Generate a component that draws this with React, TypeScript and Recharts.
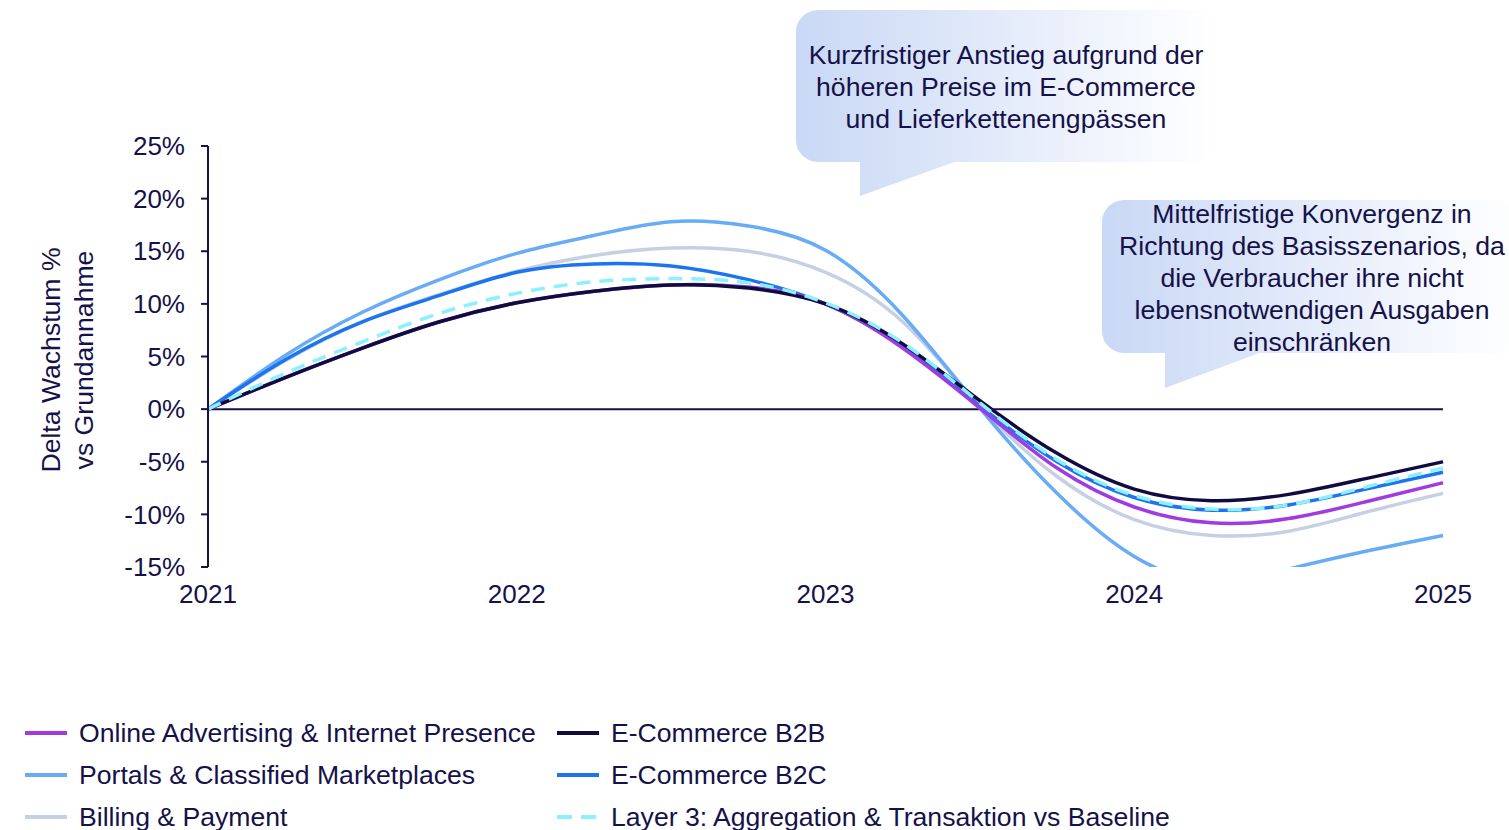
import { LineChart, Line, XAxis, YAxis, ReferenceLine } from 'recharts'

const years = [2021, 2021.25, 2021.5, 2021.75, 2022, 2022.25, 2022.5, 2022.75, 2023, 2023.25, 2023.5, 2023.75, 2024, 2024.25, 2024.5, 2024.75, 2025]

const onlineAdvertising = [0, 3.0, 5.8, 8.3, 10.1, 11.2, 11.8, 11.6, 10.0, 5.8, 0.1, -5.6, -9.3, -10.8, -10.4, -8.8, -7.0]
const portals = [0, 5.1, 9.2, 12.3, 14.8, 16.5, 17.8, 17.4, 15.1, 8.9, 0.1, -8.0, -14.0, -16.4, -15.2, -13.5, -12.0]
const billing = [0, 4.6, 8.3, 10.9, 13.1, 14.6, 15.3, 15.0, 13.0, 8.3, 0.3, -6.4, -10.5, -12.0, -11.6, -9.8, -8.0]
const b2b = [0, 3.0, 5.8, 8.3, 10.1, 11.2, 11.8, 11.5, 10.0, 6.2, 0.8, -4.2, -7.6, -8.7, -8.1, -6.6, -5.0]
const b2c = [0, 4.7, 8.3, 10.8, 13.0, 13.8, 13.6, 12.3, 10.0, 5.9, 0.3, -5.0, -8.4, -9.6, -9.1, -7.6, -6.0]
const layer3 = [0, 3.4, 6.4, 9.1, 11.0, 12.1, 12.4, 12.0, 10.1, 6.3, 0.6, -4.8, -8.2, -9.5, -9.1, -7.4, -5.6]

const yTicks = [-15, -10, -5, 0, 5, 10, 15, 20, 25]
const xTicks = [2021, 2022, 2023, 2024, 2025]

const callout1 = ['Kurzfristiger Anstieg aufgrund der', 'höheren Preise im E-Commerce', 'und Lieferkettenengpässen']
const callout2 = ['Mittelfristige Konvergenz in', 'Richtung des Basisszenarios, da', 'die Verbraucher ihre nicht', 'lebensnotwendigen Ausgaben', 'einschränken']

const series = [
  { key: 'billing', name: 'Billing & Payment', color: '#C6D0E3', values: billing },
  { key: 'portals', name: 'Portals & Classified Marketplaces', color: '#68ABF6', values: portals },
  { key: 'b2c', name: 'E-Commerce B2C', color: '#1C74EE', values: b2c },
  { key: 'online', name: 'Online Advertising & Internet Presence', color: '#A03CDF', values: onlineAdvertising },
  { key: 'b2b', name: 'E-Commerce B2B', color: '#100C40', values: b2b },
  { key: 'layer3', name: 'Layer 3: Aggregation & Transaktion vs Baseline', color: '#8DF0FF', values: layer3, dashed: true },
]

const legendOrder = [
  ['online', 'portals', 'billing'],
  ['b2b', 'b2c', 'layer3'],
]

const data = years.map((t, i) => {
  const row: any = { t }
  series.forEach((s) => { row[s.key] = s.values[i] })
  return row
})

const FONT = '"Liberation Sans", Arial, sans-serif'
const INK = '#15114A'
const TXT = 26.6

const Callout = ({ x, y, w, h, tailX, tailY, lines, cx, firstLine, id }: any) => (
  <g>
    <defs>
      <linearGradient id={id} gradientUnits="userSpaceOnUse" x1={x} y1={0} x2={x + w} y2={0}>
        <stop offset="0%" stopColor="#C9D8F5" />
        <stop offset="100%" stopColor="#FFFFFF" />
      </linearGradient>
    </defs>
    <rect x={x} y={y} width={w} height={h} rx={22} fill={`url(#${id})`} />
    <polygon points={`${tailX},${y + h - 2} ${tailX + 100},${y + h - 2} ${tailX},${tailY}`} fill={`url(#${id})`} />
    {lines.map((l: string, i: number) => (
      <text key={i} x={cx} y={firstLine + i * 32} textAnchor="middle" fontSize={TXT} fontFamily={FONT} fill={INK}>{l}</text>
    ))}
  </g>
)

export default function App() {
  return (
    <div style={{ position: 'absolute', left: 0, top: 0, width: 1509, height: 830, background: '#fff', fontFamily: FONT, overflow: 'hidden' }}>
      <LineChart width={1509} height={620} data={data} margin={{ top: 146, right: 66, bottom: 13, left: 0 }}>
        <XAxis
          dataKey="t"
          type="number"
          domain={[2021, 2025]}
          ticks={xTicks}
          axisLine={false}
          tickLine={false}
          tickMargin={12}
          height={40}
          tick={{ fontSize: 26, fill: INK, fontFamily: FONT }}
        />
        <YAxis
          domain={[-15, 25]}
          ticks={yTicks}
          allowDataOverflow
          width={208}
          tickFormatter={(v) => `${v}%`}
          axisLine={{ stroke: INK, strokeWidth: 2 }}
          tickLine={{ stroke: INK, strokeWidth: 2 }}
          tickSize={7}
          tickMargin={16}
          tick={{ fontSize: 26, fill: INK, fontFamily: FONT }}
        />
        <ReferenceLine y={0} stroke={INK} strokeWidth={2} />
        {series.map((s) => (
          <Line
            key={s.key}
            dataKey={s.key}
            name={s.name}
            type="natural"
            stroke={s.color}
            strokeWidth={3.5}
            strokeDasharray={s.dashed ? '14 9' : undefined}
            dot={false}
            isAnimationActive={false}
          />
        ))}
      </LineChart>

      <svg width={1509} height={830} style={{ position: 'absolute', left: 0, top: 0, pointerEvents: 'none' }}>
        <text transform="translate(60,360) rotate(-90)" textAnchor="middle" fontSize={TXT} fontFamily={FONT} fill={INK}>Delta Wachstum %</text>
        <text transform="translate(93,360) rotate(-90)" textAnchor="middle" fontSize={TXT} fontFamily={FONT} fill={INK}>vs Grundannahme</text>
        <Callout id="g1" x={796} y={10} w={420} h={152} tailX={860} tailY={196} lines={callout1} cx={1006} firstLine={64} />
        <Callout id="g2" x={1102} y={200} w={420} h={153} tailX={1165} tailY={388} lines={callout2} cx={1312} firstLine={223} />
      </svg>

      {legendOrder.map((col, ci) =>
        col.map((key, ri) => {
          const s = series.find((x) => x.key === key)!
          return (
            <div key={key} style={{ position: 'absolute', left: ci === 0 ? 25 : 557, top: 733 + ri * 42 - 16, height: 32, display: 'flex', alignItems: 'center', whiteSpace: 'nowrap' }}>
              <svg width={42} height={6}>
                <line x1={0} y1={3} x2={42} y2={3} stroke={s.color} strokeWidth={4} strokeDasharray={s.dashed ? '15 9' : undefined} />
              </svg>
              <span style={{ marginLeft: 12, fontSize: TXT, color: INK }}>{s.name}</span>
            </div>
          )
        })
      )}
    </div>
  )
}
